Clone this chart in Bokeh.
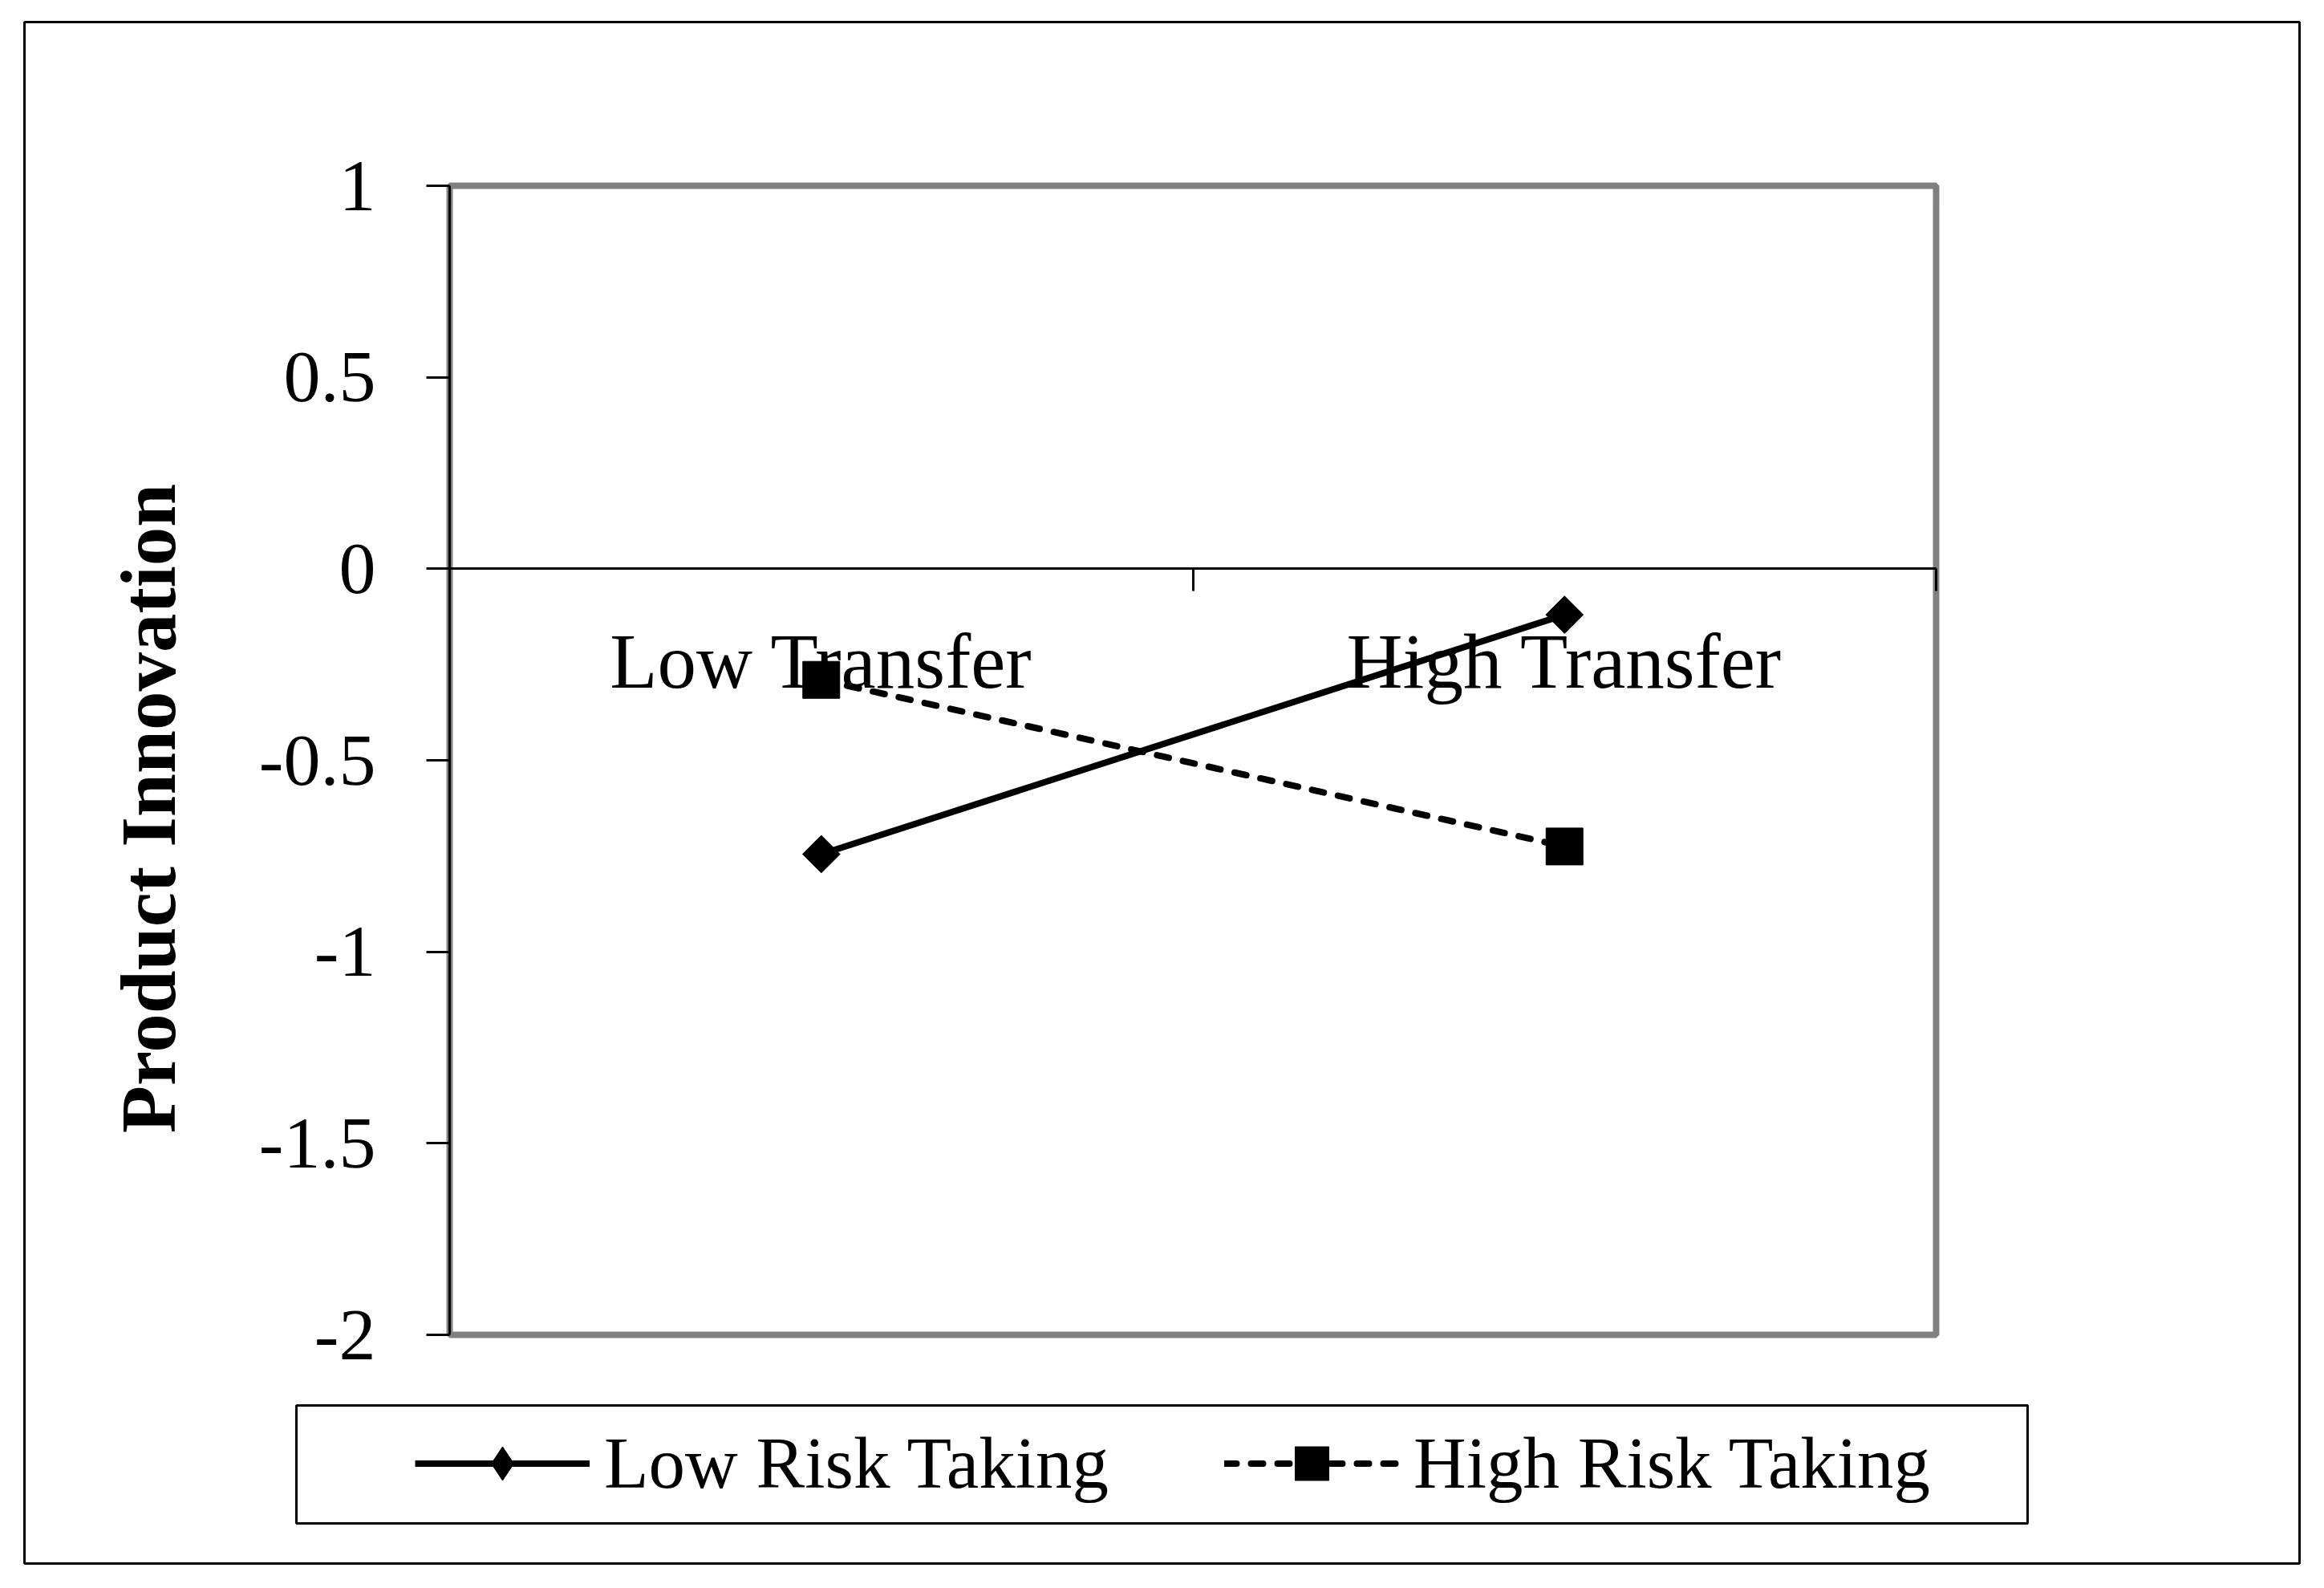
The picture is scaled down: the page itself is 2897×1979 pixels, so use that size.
from math import pi
from bokeh.plotting import figure
from bokeh.models import (Range1d, FixedTicker, LinearAxis, Legend, LegendItem,
                          BoxAnnotation, Label)
from bokeh.embed import file_html
from bokeh.resources import INLINE

# ---------------- data ----------------
categories = ["Low Transfer", "High Transfer"]
low_risk = [-0.745, -0.12]
high_risk = [-0.29, -0.725]
series_names = ["Low Risk Taking", "High Risk Taking"]
y_ticks = [-2, -1.5, -1, -0.5, 0, 0.5, 1]
y_tick_labels = ["-2", "-1.5", "-1", "-0.5", "0", "0.5", "1"]
y_title = "Product Innovation"

# ---------------- layout (canvas pixels) ----------------
FONT = "Liberation Serif"
W, H = 2880, 1960
# outer chart box
OL, OT, OR, OB = 30, 27, 2866, 1948
# plot area (data box) inside it
PL, PT, PR, PB = 560, 231, 2413, 1663
NCAT = len(categories)
YMIN, YMAX = min(y_ticks), max(y_ticks)
SX = (PR - PL) / NCAT            # px per x unit
SY = (PB - PT) / (YMAX - YMIN)   # px per y unit


def dx(px):
    return (px - PL) / SX


def dy(py):
    return YMAX - (py - PT) / SY


x_pos = [i + 0.5 for i in range(NCAT)]
x_bounds = list(range(NCAT + 1))

p = figure(width=W, height=H,
           x_range=Range1d(dx(OL), dx(OR)), y_range=Range1d(dy(OB), dy(OT)),
           output_backend="svg", toolbar_location=None,
           min_border_left=OL, min_border_top=OT,
           min_border_right=W - OR, min_border_bottom=H - OB,
           background_fill_color="white", border_fill_color="white")

p.outline_line_color = "black"
p.outline_line_width = 3
p.xgrid.visible = False
p.ygrid.visible = False

# plot-area frame (grey)
p.add_layout(BoxAnnotation(left=0, right=NCAT, top=YMAX, bottom=YMIN, level="underlay",
                           fill_alpha=0, line_color="#808080", line_alpha=1, line_width=8))

# y axis fixed at x = 0
ya = p.yaxis[0]
ya.fixed_location = 0
ya.ticker = FixedTicker(ticks=y_ticks)
ya.major_label_overrides = {float(t): l for t, l in zip(y_ticks, y_tick_labels)}
ya.major_tick_in = 0
ya.major_tick_out = 29
ya.major_tick_line_width = 3
ya.major_tick_line_color = "black"
ya.axis_line_width = 3
ya.axis_line_color = "black"
ya.minor_tick_line_color = None
ya.major_label_text_font = FONT
ya.major_label_text_font_size = "92px"
ya.major_label_text_color = "black"
ya.major_label_standoff = 63
ya.bounds = (YMIN, YMAX)

# x axis at y = 0: boundary ticks
xa = p.xaxis[0]
xa.fixed_location = 0
xa.ticker = FixedTicker(ticks=x_bounds)
xa.major_label_overrides = {float(b): "" for b in x_bounds}
xa.major_tick_in = 0
xa.major_tick_out = 28
xa.major_tick_line_width = 3
xa.major_tick_line_color = "black"
xa.axis_line_width = 3
xa.axis_line_color = "black"
xa.minor_tick_line_color = None
xa.bounds = (0, NCAT)

# category labels at y = 0
xl = LinearAxis(fixed_location=0, ticker=FixedTicker(ticks=x_pos),
                major_label_overrides={float(x): c for x, c in zip(x_pos, categories)},
                axis_line_color=None, major_tick_line_color=None, minor_tick_line_color=None,
                major_tick_in=0, major_tick_out=0,
                major_label_standoff=62, major_label_text_font=FONT,
                major_label_text_font_size="97px", major_label_text_color="black")
p.add_layout(xl, "below")

# series
r1 = p.line(x_pos, low_risk, line_color="black", line_width=8)
s1_leg = p.scatter(x_pos, low_risk, marker="diamond", size=44,
                   fill_color="black", line_color="black")
s1 = p.scatter(x_pos, low_risk, marker="square", size=33, angle=pi / 4,
               fill_color="black", line_color="black")
r2 = p.line(x_pos, high_risk, line_color="black", line_width=8,
            line_dash="15 18", line_cap="round")
s2 = p.scatter(x_pos, high_risk, marker="square", size=46,
               fill_color="black", line_color="black")

legend = Legend(items=[LegendItem(label=series_names[0], renderers=[r1, s1_leg]),
                       LegendItem(label=series_names[1], renderers=[r2, s2])],
                orientation="horizontal", location=(517 - OL, OB - 1876),
                padding=0, spacing=144, glyph_width=218, glyph_height=105,
                label_standoff=18, label_text_font=FONT, label_text_font_size="91px",
                label_text_color="black", border_line_alpha=0, background_fill_alpha=0)
p.add_layout(legend)

# legend frame
p.add_layout(BoxAnnotation(left=dx(369), right=dx(2527), top=dy(1751), bottom=dy(1898),
                           fill_alpha=0, line_color="black", line_alpha=1, line_width=3))

# y title
p.add_layout(Label(x=dx(185), y=dy(1007), text=y_title, angle=pi / 2,
                   text_align="center", text_baseline="middle",
                   text_font=FONT, text_font_style="bold", text_font_size="97px",
                   text_color="black"))

open("out.html", "w").write(file_html(p, INLINE))
